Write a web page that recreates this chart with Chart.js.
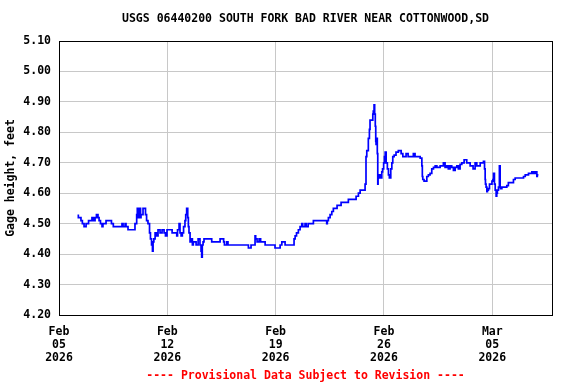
<!DOCTYPE html>
<html><head><meta charset="utf-8">
<script src="https://cdn.jsdelivr.net/npm/chart.js@4/dist/chart.umd.min.js"></script>
<style>html,body{margin:0;padding:0;background:#fff}#wrap{width:576px;height:384px}</style>
</head><body><div id="wrap"><canvas id="c" width="576" height="384"></canvas></div>
<script>
const titleText = 'USGS 06440200 SOUTH FORK BAD RIVER NEAR COTTONWOOD,SD';
const footerText = '---- Provisional Data Subject to Revision ----';
const yAxisTitle = 'Gage height, feet';
const tickDays = [0, 7, 14, 21, 28];
const tickMonths = ['Feb', 'Feb', 'Feb', 'Feb', 'Mar'];
const tickDates = ['05', '12', '19', '26', '05'];
const tickYears = ['2026', '2026', '2026', '2026', '2026'];
const yTickValues = [4.2, 4.3, 4.4, 4.5, 4.6, 4.7, 4.8, 4.9, 5.0, 5.1];
// days since Feb 05 2026 00:00
const days = [1.25,1.31,1.42,1.51,1.62,1.75,1.83,1.91,1.97,2.13,2.22,2.33,2.42,2.52,2.59,2.68,2.78,2.84,2.91,3.04,
3.12,3.39,3.51,3.73,4.07,4.14,4.27,4.33,4.46,4.59,4.91,5.02,5.06,5.09,5.13,5.20,5.27,5.30,5.43,5.53,
5.59,5.66,5.75,5.85,5.91,5.98,6.04,6.08,6.13,6.21,6.30,6.40,6.53,6.66,6.79,6.88,6.98,7.05,7.31,7.43,
7.61,7.66,7.76,7.82,7.89,7.97,8.05,8.14,8.19,8.25,8.32,8.36,8.40,8.47,8.53,8.62,8.68,8.86,8.99,9.11,
9.18,9.22,9.26,9.31,9.37,9.55,9.87,9.95,10.41,10.52,10.64,10.69,10.84,10.92,10.99,12.24,12.28,12.41,12.48,12.67,
12.71,12.80,12.93,13.03,13.12,13.32,13.57,13.96,14.06,14.29,14.40,14.61,14.71,15.19,15.26,15.35,15.47,15.58,15.69,15.75,
15.90,15.97,16.10,16.16,16.44,16.50,17.30,17.34,17.41,17.52,17.63,17.73,17.84,17.97,18.12,18.23,18.29,18.70,19.02,19.20,
19.35,19.46,19.67,19.78,19.84,19.89,19.99,20.06,20.10,20.17,20.28,20.31,20.36,20.40,20.44,20.47,20.49,20.54,20.57,20.60,
20.62,20.66,20.75,20.86,20.91,20.98,21.03,21.08,21.14,21.22,21.29,21.35,21.44,21.51,21.57,21.66,21.78,21.93,22.11,22.22,
22.43,22.56,22.69,22.90,23.01,23.34,23.45,23.48,23.51,23.59,23.77,23.87,23.98,24.09,24.20,24.31,24.42,24.63,24.84,24.95,
25.06,25.16,25.27,25.38,25.49,25.60,25.71,25.81,25.92,26.03,26.18,26.35,26.57,26.68,26.76,26.89,27.00,27.11,27.22,27.32,
27.43,27.50,27.54,27.56,27.60,27.65,27.69,27.75,27.82,27.91,27.98,28.04,28.08,28.14,28.19,28.25,28.29,28.33,28.40,28.46,
28.51,28.53,28.62,28.72,28.94,29.04,29.15,29.37,29.48,29.59,30.02,30.13,30.34,30.56,30.66,30.77,30.88,30.91,30.98];
const heights = [4.53,4.52,4.52,4.51,4.50,4.49,4.50,4.50,4.51,4.51,4.52,4.51,4.52,4.53,4.52,4.51,4.50,4.49,4.50,4.50,
4.51,4.51,4.50,4.49,4.49,4.50,4.49,4.50,4.49,4.48,4.48,4.50,4.53,4.55,4.52,4.52,4.55,4.52,4.53,4.55,
4.55,4.53,4.51,4.50,4.47,4.45,4.43,4.41,4.44,4.45,4.47,4.46,4.48,4.47,4.48,4.47,4.46,4.48,4.48,4.47,
4.47,4.46,4.48,4.50,4.47,4.46,4.47,4.49,4.51,4.53,4.55,4.52,4.49,4.47,4.44,4.45,4.43,4.44,4.43,4.45,
4.43,4.41,4.39,4.43,4.44,4.45,4.45,4.44,4.44,4.45,4.45,4.44,4.43,4.44,4.43,4.43,4.42,4.42,4.43,4.43,
4.46,4.45,4.44,4.45,4.44,4.44,4.43,4.43,4.42,4.42,4.43,4.44,4.43,4.43,4.45,4.46,4.47,4.48,4.49,4.50,
4.49,4.50,4.49,4.50,4.50,4.51,4.51,4.50,4.51,4.52,4.53,4.54,4.55,4.55,4.56,4.56,4.57,4.57,4.58,4.58,
4.59,4.60,4.61,4.61,4.63,4.72,4.74,4.78,4.81,4.84,4.84,4.86,4.87,4.89,4.86,4.82,4.77,4.76,4.78,4.73,
4.63,4.65,4.66,4.65,4.67,4.68,4.70,4.72,4.735,4.70,4.68,4.66,4.65,4.68,4.70,4.72,4.725,4.735,4.74,4.73,
4.72,4.73,4.72,4.72,4.73,4.72,4.715,4.69,4.655,4.645,4.64,4.655,4.66,4.665,4.68,4.685,4.69,4.685,4.69,4.70,
4.685,4.69,4.68,4.69,4.685,4.675,4.685,4.69,4.68,4.695,4.70,4.71,4.70,4.69,4.69,4.68,4.70,4.69,4.69,4.70,
4.70,4.705,4.68,4.645,4.63,4.62,4.605,4.61,4.615,4.63,4.63,4.64,4.645,4.665,4.63,4.61,4.59,4.60,4.61,4.62,
4.69,4.62,4.615,4.62,4.62,4.625,4.635,4.635,4.645,4.65,4.65,4.655,4.66,4.665,4.67,4.665,4.67,4.655,4.66];

const FONT_FAMILY = '"DejaVu Sans Mono", "Liberation Mono", monospace';
const baseFont = {family: FONT_FAMILY, size: 11.5, weight: 'bold'};

const framePlugin = {
  id: 'frameAndText',
  afterDraw(chart) {
    const {ctx, chartArea: a} = chart;
    ctx.save();
    ctx.strokeStyle = '#000';
    ctx.lineWidth = 1;
    ctx.strokeRect(Math.round(a.left) + 0.5, Math.round(a.top) + 0.5,
      Math.round(a.right - a.left), Math.round(a.bottom - a.top));
    ctx.font = 'bold 11.5px ' + FONT_FAMILY;
    ctx.textAlign = 'center';
    ctx.textBaseline = 'middle';
    const cx = (a.left + a.right) / 2;
    ctx.fillStyle = '#000';
    ctx.fillText(titleText, cx, 19.5);
    ctx.fillStyle = '#ff0000';
    ctx.fillText(footerText, cx, 376);
    ctx.restore();
  }
};

new Chart(document.getElementById('c'), {
  type: 'line',
  data: {
    datasets: [{
      data: days.map((d, i) => ({x: d, y: heights[i]})),
      borderColor: '#0000ff',
      borderWidth: 1.7,
      pointRadius: 0,
      stepped: 'after',
      fill: false
    }]
  },
  options: {
    responsive: false,
    devicePixelRatio: 1,
    animation: false,
    layout: {padding: {top: 41, right: 24, bottom: 0, left: 0}},
    plugins: {legend: {display: false}, tooltip: {enabled: false}, title: {display: false}},
    scales: {
      x: {
        type: 'linear', min: 0, max: 31.86,
        afterBuildTicks: s => { s.ticks = tickDays.map(v => ({value: v})); },
        afterFit: s => { s.height = 69; },
        ticks: {
          autoSkip: false, maxRotation: 0, minRotation: 0, padding: 11, color: '#000',
          font: Object.assign({}, baseFont, {lineHeight: '13px'}),
          callback: (v) => { const i = tickDays.indexOf(v); return [tickMonths[i], tickDates[i], tickYears[i]]; }
        },
        grid: {color: '#c8c8c8', drawTicks: false, lineWidth: 1},
        border: {display: false}
      },
      y: {
        min: 4.2, max: 5.1,
        afterBuildTicks: s => { s.ticks = yTickValues.map(v => ({value: v})); },
        afterFit: s => { s.width = 59; },
        ticks: {padding: 8, color: '#000', font: baseFont, callback: v => Number(v).toFixed(2)},
        grid: {color: '#c8c8c8', drawTicks: false, lineWidth: 1},
        border: {display: false},
        title: {display: true, text: yAxisTitle, color: '#000', font: baseFont, padding: {top: 4, bottom: 0}}
      }
    }
  },
  plugins: [framePlugin]
});
</script></body></html>
